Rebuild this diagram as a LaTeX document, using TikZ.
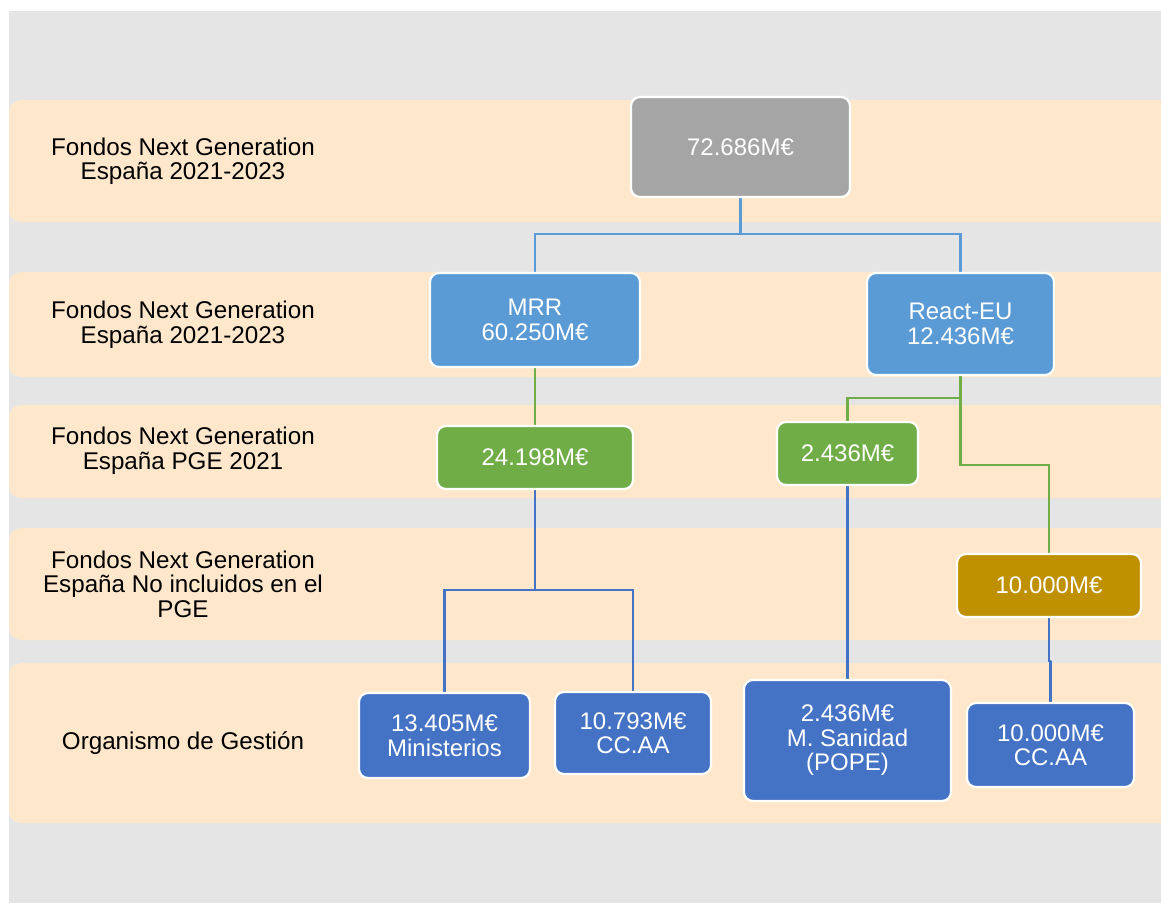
\documentclass[tikz,border=0pt]{standalone}
\usepackage{fontspec}
\setmainfont{Liberation Sans}
\usetikzlibrary{backgrounds}
\definecolor{bggray}{HTML}{E5E5E5}
\definecolor{peach}{HTML}{FFE7CC}
\definecolor{nodegray}{HTML}{A5A5A5}
\definecolor{lblue}{HTML}{5B9BD5}
\definecolor{ngreen}{HTML}{70AD47}
\definecolor{ngold}{HTML}{BF9000}
\definecolor{dblue}{HTML}{4472C4}
\tikzset{
  nbox/.style={rounded corners=9pt, draw=white, line width=2.2pt, text=white,
    font=\fontsize{24}{24.5}\selectfont, align=center, inner sep=0pt},
  lab/.style={font=\fontsize{24.2}{24.5}\selectfont, align=center, text=black, inner sep=0pt},
  band/.style={fill=peach, rounded corners=12pt},
  conn/.style={line width=2.4pt},
}
\begin{document}
\begin{tikzpicture}[x=1pt,y=-1pt]
\useasboundingbox (0,0) rectangle (1161,903);
\begin{pgfonlayer}{background}
\clip (0,0) rectangle (1161,903);
\fill[white] (0,0) rectangle (1161,903);
\fill[bggray] (9,11) rectangle (1161,903);
\fill[band] (9,100) rectangle (1190,222);
\fill[band] (9,272) rectangle (1190,377);
\fill[band] (9,405) rectangle (1190,498);
\fill[band] (9,528) rectangle (1190,640);
\fill[band] (9,663) rectangle (1190,823);
\end{pgfonlayer}

% left labels
\node[lab] (lab1) at (183,161) {Fondos Next Generation\\España 2021-2023};
\node[lab] (lab2) at (183,324.5) {Fondos Next Generation\\España 2021-2023};
\node[lab] (lab3) at (183,450.5) {Fondos Next Generation\\España PGE 2021};
\node[lab] (lab4) at (183,584) {Fondos Next Generation\\España No incluidos en el\\PGE};
\node[lab] (lab5) at (183,743) {Organismo de Gestión};

% nodes
\node[nbox, fill=nodegray, minimum width=219pt, minimum height=100pt] (root) at (740.5,147) {72.686M€};
\node[nbox, fill=lblue, minimum width=210pt, minimum height=94pt] (mrr) at (535,320) {MRR\\60.250M€};
\node[nbox, fill=lblue, minimum width=187pt, minimum height=102pt] (react) at (960.5,324) {React-EU\\12.436M€};
\node[nbox, fill=ngreen, minimum width=196pt, minimum height=63pt] (g1) at (535,457.5) {24.198M€};
\node[nbox, fill=ngreen, minimum width=141pt, minimum height=63pt] (g2) at (847.5,453.5) {2.436M€};
\node[nbox, fill=ngold, minimum width=184pt, minimum height=63pt] (gold) at (1049,585.5) {10.000M€};
\node[nbox, fill=dblue, minimum width=171pt, minimum height=85pt] (b1) at (444.5,735.5) {13.405M€\\Ministerios};
\node[nbox, fill=dblue, minimum width=156pt, minimum height=82pt] (b2) at (633,733) {10.793M€\\CC.AA};
\node[nbox, fill=dblue, minimum width=207pt, minimum height=121pt] (b3) at (847.5,740.5) {2.436M€\\M. Sanidad\\(POPE)};
\node[nbox, fill=dblue, minimum width=167pt, minimum height=84pt] (b4) at (1050.5,745) {10.000M€\\CC.AA};

% connectors
\coordinate (j1) at (740.5,234);
\coordinate (j2) at (960.5,398);
\coordinate (j3) at (960.5,465);
\coordinate (j4) at (535,590);
\coordinate (j5) at (1051,661);
\begin{pgfonlayer}{background}
\draw[conn, lblue] (root.south) -- (j1);
\draw[conn, lblue] (mrr.north) |- (j1) -| (react.north);
\draw[conn, ngreen] (mrr.south) -- (g1.north);
\draw[conn, ngreen] (react.south) -- (j2) -| (g2.north);
\draw[conn, ngreen] (j2) -- (j3) -| (gold.north);
\draw[conn, dblue] (g1.south) -- (j4);
\draw[conn, dblue] (b1.north) |- (j4) -| (b2.north);
\draw[conn, dblue] (g2.south) -- (b3.north);
\draw[conn, dblue] (gold.south) |- (j5) -| (b4.north);
\end{pgfonlayer}
\end{tikzpicture}
\end{document}
